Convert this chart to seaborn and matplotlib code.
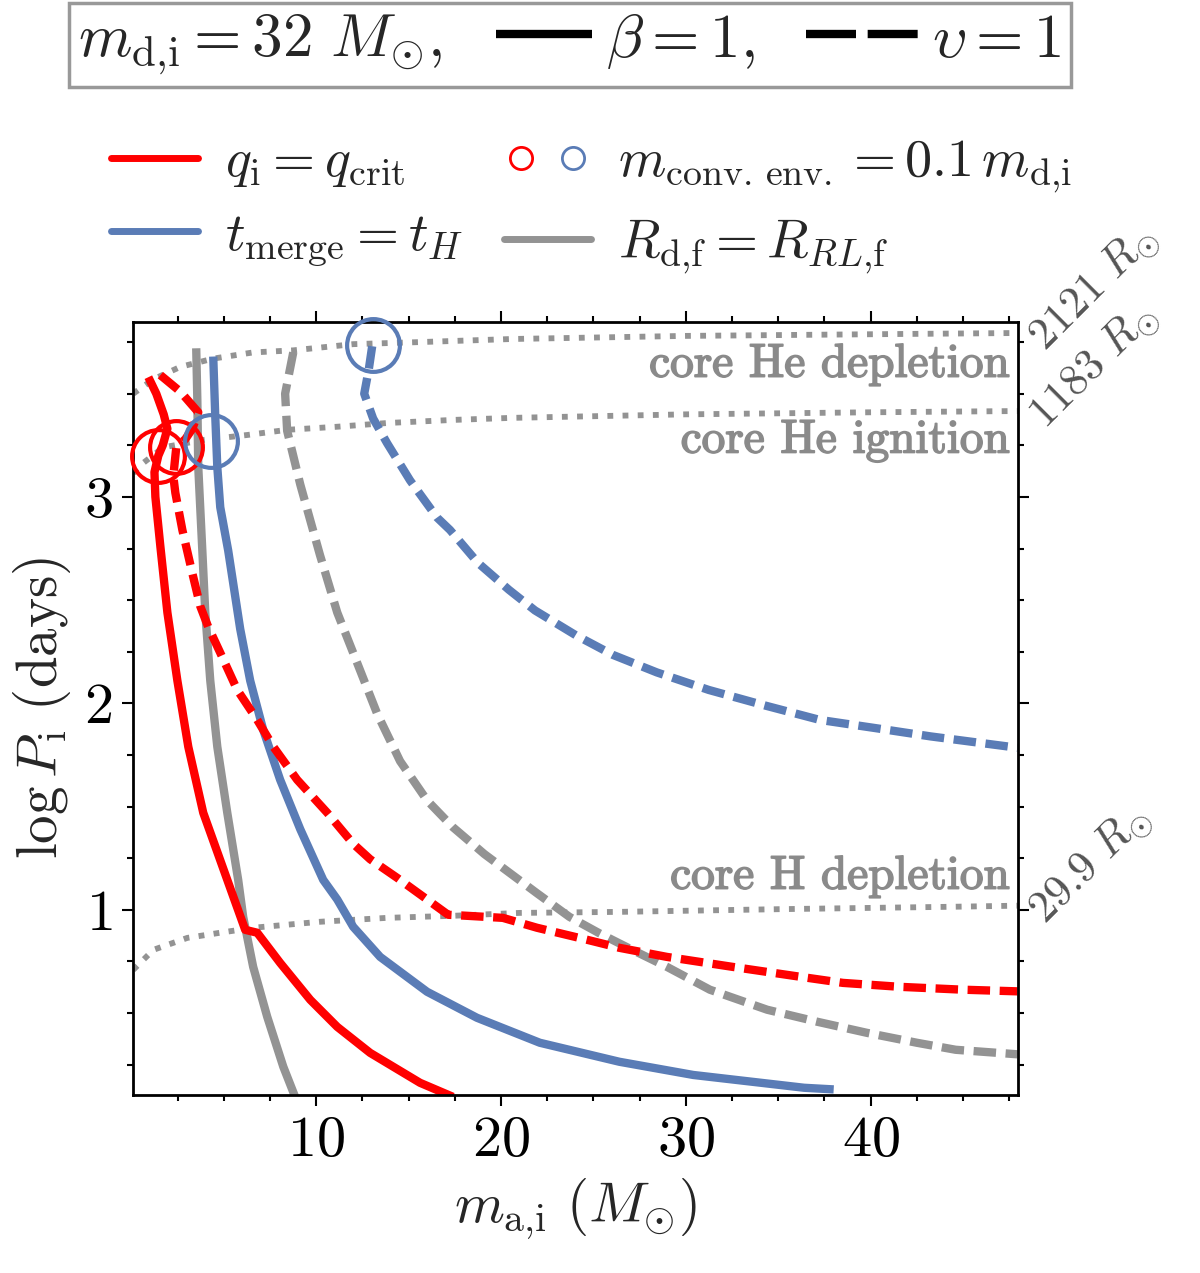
import matplotlib
matplotlib.use("Agg")
import matplotlib.pyplot as plt
import matplotlib.patheffects as pe
import seaborn as sns
from matplotlib.lines import Line2D
from matplotlib.ticker import MultipleLocator
from matplotlib.legend_handler import HandlerTuple
from matplotlib.offsetbox import TextArea, DrawingArea, HPacker, AnchoredOffsetbox

# ---------------- data ----------------
# q_i = q_crit, beta = 1 (solid red)
qcrit_beta_m = [0.92, 1.35, 1.75, 1.95, 1.70, 1.46, 1.25, 1.30, 1.57, 1.95, 2.49, 3.08, 3.89,
                5.19, 6.16, 6.81, 8.05, 9.68, 11.14, 12.92, 15.62, 17.4]
qcrit_beta_logp = [3.58, 3.50, 3.40, 3.33, 3.25, 3.20, 3.12, 3.00, 2.76, 2.44, 2.11, 1.79, 1.47,
                   1.145, 0.903, 0.889, 0.743, 0.564, 0.433, 0.307, 0.162, 0.094]
# q_i = q_crit, upsilon = 1 (dashed red)
qcrit_ups_m = [1.57, 2.65, 3.62, 3.30, 2.92, 2.43, 2.27, 2.38, 2.76, 3.30, 3.73, 4.16, 4.81, 5.73,
               6.81, 7.68, 8.97, 10.6, 12.0, 12.92, 14.38, 16.0, 17.14, 18.16, 20.1, 21.95, 24.65,
               26.4, 28.97, 32.5, 36.16, 38.5, 41.57, 45.0, 47.95]
qcrit_ups_logp = [3.59, 3.51, 3.41, 3.33, 3.28, 3.24, 3.10, 3.02, 2.84, 2.63, 2.47, 2.37, 2.245, 2.065,
                  1.92, 1.79, 1.63, 1.47, 1.32, 1.245, 1.155, 1.05, 0.976, 0.971, 0.961, 0.913, 0.855,
                  0.816, 0.772, 0.724, 0.676, 0.646, 0.627, 0.613, 0.605]
# t_merge = t_H, beta = 1 (solid blue)
tmerge_beta_m = [4.43, 4.54, 4.65, 4.81, 5.24, 5.89, 6.43, 7.14, 8.05, 9.14, 10.38, 11.14, 12.0,
                 13.46, 16.0, 18.7, 22.1, 26.4, 30.4, 36.4, 38.0]
tmerge_beta_logp = [3.68, 3.39, 3.145, 2.95, 2.74, 2.36, 2.11, 1.87, 1.63, 1.39, 1.145, 1.05, 0.918,
                    0.772, 0.603, 0.477, 0.356, 0.264, 0.20, 0.138, 0.13]
# t_merge = t_H, upsilon = 1 (dashed blue)
tmerge_ups_m = [13.03, 12.85, 12.6, 13.08, 13.84, 15.08, 16.54, 17.24, 18.76, 20.43, 21.84, 24.05,
                26.05, 28.43, 31.24, 34.27, 37.24, 40.27, 43.24, 47.95]
tmerge_ups_logp = [3.73, 3.62, 3.50, 3.38, 3.26, 3.08, 2.90, 2.84, 2.68, 2.55, 2.45, 2.33,
                   2.235, 2.15, 2.065, 1.99, 1.92, 1.88, 1.84, 1.785]
# R_d,f = R_RL,f, beta = 1 (solid gray)
rrl_beta_m = [3.51, 3.57, 3.62, 3.84, 4.0, 4.27, 4.65, 5.19, 5.78, 6.05, 6.59, 7.35, 8.22, 8.86]
rrl_beta_logp = [3.72, 3.47, 3.145, 2.74, 2.44, 2.11, 1.79, 1.47, 1.145, 0.966, 0.724, 0.482, 0.24, 0.094]
# R_d,f = R_RL,f, upsilon = 1 (dashed gray)
rrl_ups_m = [8.76, 8.32, 8.43, 9.14, 10.2, 11.14, 12.2, 13.3, 14.54, 16.0, 17.4, 19.1, 20.9, 21.95,
             23.7, 25.35, 27.1, 28.97, 31.3, 34.4, 37.1, 39.8, 42.5, 44.6, 47.95]
rrl_ups_logp = [3.70, 3.50, 3.32, 3.06, 2.72, 2.44, 2.20, 1.95, 1.72, 1.53, 1.40, 1.27, 1.15, 1.08,
                0.966, 0.885, 0.806, 0.724, 0.613, 0.516, 0.458, 0.404, 0.356, 0.322, 0.30]
# evolutionary stage lines (dotted gray)
he_dep_m = [0.1, 1.19, 2.65, 4.43, 6.59, 8.76, 12.0, 15.6, 20.6, 30.0, 40.0, 47.95]
he_dep_logp = [3.50, 3.57, 3.63, 3.67, 3.70, 3.71, 3.74, 3.75, 3.765, 3.78, 3.788, 3.794]
he_ign_m = [0.1, 0.65, 1.73, 3.89, 6.27, 8.43, 11.14, 13.84, 17.4, 20.6, 30.0, 40.0, 47.95]
he_ign_logp = [3.116, 3.165, 3.24, 3.276, 3.30, 3.325, 3.34, 3.358, 3.373, 3.383, 3.40, 3.41, 3.416]
h_dep_m = [0.1, 1.19, 3.03, 4.81, 6.59, 10.2, 13.84, 17.4, 21.0, 26.4, 35.0, 44.6, 47.95]
h_dep_logp = [0.709, 0.806, 0.864, 0.889, 0.913, 0.942, 0.961, 0.971, 0.985, 0.99, 1.003, 1.015, 1.02]
stage_names = ["core He depletion", "core He ignition", "core H depletion"]
stage_text_logp = [3.64, 3.27, 1.16]
radius_labels = [r"$2121\ R_{\odot}$", r"$1183\ R_{\odot}$", r"$29.9\ R_{\odot}$"]
# m_conv.env = 0.1 m_d,i markers
conv_red_m = [1.46, 2.43]
conv_red_logp = [3.20, 3.24]
conv_blue_m = [4.32, 13.08]
conv_blue_logp = [3.27, 3.735]

RED = "#ff0000"
BLUE = "#5a7cb6"
GRAY = "#939393"
STAGE_GRAY = "#8a8a8a"

sns.set_theme(style="ticks")
plt.rcParams.update({
    "font.family": "serif",
    "font.serif": ["cmr10", "DejaVu Serif"],
    "mathtext.fontset": "cm",
    "axes.formatter.use_mathtext": True,
    "axes.unicode_minus": False,
    "axes.edgecolor": "black",
    "xtick.color": "black",
    "ytick.color": "black",
})

fig = plt.figure(figsize=(12, 12.73), dpi=100)
ax = fig.add_axes([0.111, 0.140, 0.737, 0.607])


def draw(x, y, color, style, lw=6.0, z=2):
    sns.lineplot(x=x, y=y, ax=ax, sort=False, estimator=None, color=color, lw=lw, zorder=z)
    ln = ax.lines[-1]
    if style == "dash":
        ln.set_dashes((2.7, 1.15))
    elif style == "dot":
        ln.set_dashes((1.0, 1.6))
    ln.set_dash_capstyle("butt")
    ln.set_solid_capstyle("butt")
    return ln


# dotted stage lines
draw(he_dep_m, he_dep_logp, GRAY, "dot", lw=4.2, z=1)
draw(he_ign_m, he_ign_logp, GRAY, "dot", lw=4.2, z=1)
draw(h_dep_m, h_dep_logp, GRAY, "dot", lw=4.2, z=1)

# main curves
draw(rrl_ups_m, rrl_ups_logp, GRAY, "dash")
draw(rrl_beta_m, rrl_beta_logp, GRAY, "solid")
draw(tmerge_ups_m, tmerge_ups_logp, BLUE, "dash")
draw(tmerge_beta_m, tmerge_beta_logp, BLUE, "solid")
draw(qcrit_ups_m, qcrit_ups_logp, RED, "dash")
draw(qcrit_beta_m, qcrit_beta_logp, RED, "solid")

# convective envelope markers
ax.plot(conv_red_m, conv_red_logp, ls="none", marker="o", ms=38, mfc="none",
        mec=RED, mew=3, zorder=4, clip_on=False)
ax.plot(conv_blue_m, conv_blue_logp, ls="none", marker="o", ms=38, mfc="none",
        mec=BLUE, mew=3, zorder=4, clip_on=False)

XMIN, XMAX = 0.1, 47.95
ax.set_xlim(XMIN, XMAX)
ax.set_ylim(0.104, 3.847)

# stage annotations
for name, yv in zip(stage_names, stage_text_logp):
    ax.text(47.55, yv, name, ha="right", va="center", color=STAGE_GRAY, fontsize=34, zorder=5,
            path_effects=[pe.withStroke(linewidth=1.2, foreground=STAGE_GRAY)])

stage_end_logp = [he_dep_logp[-1], he_ign_logp[-1], h_dep_logp[-1]]
for lab, yv in zip(radius_labels, stage_end_logp):
    ax.annotate(lab, xy=(XMAX, yv), xytext=(20, -14), textcoords="offset points",
                rotation=45, rotation_mode="anchor", ha="left", va="baseline",
                color="#555555", fontsize=32, annotation_clip=False)

# axes styling
ax.xaxis.set_major_locator(MultipleLocator(10))
ax.xaxis.set_minor_locator(MultipleLocator(2.5))
ax.yaxis.set_major_locator(MultipleLocator(1))
ax.yaxis.set_minor_locator(MultipleLocator(0.25))
ax.tick_params(which="both", direction="out", top=True, right=True,
               labeltop=False, labelright=False, width=1.5)
ax.tick_params(which="major", length=8, labelsize=42, pad=7)
ax.tick_params(which="minor", length=4.5)
for sp in ax.spines.values():
    sp.set_linewidth(2)
    sp.set_color("black")

ax.set_xlabel(r"$m_{\rm a{,}i}\ (M_{\odot})$", fontsize=41, labelpad=6)
ax.set_ylabel(r"$\log P_{\rm i}\ ({\rm days})$", fontsize=41, labelpad=8)

# legend of curve types
h_q = Line2D([], [], color=RED, lw=5)
h_t = Line2D([], [], color=BLUE, lw=5)
h_c = (Line2D([], [], ls="none", marker="o", ms=16, mfc="none", mec=RED, mew=2),
       Line2D([], [], ls="none", marker="o", ms=16, mfc="none", mec=BLUE, mew=2))
h_r = Line2D([], [], color=GRAY, lw=5)
labels = [r"$q_{\rm i} = q_{\rm crit}$", r"$t_{\rm merge} = t_H$",
          r"$m_{\rm conv.\,env.} = 0.1\,m_{\rm d{,}i}$", r"$R_{\rm d{,}f} = R_{RL{,}{\rm f}}$"]
fig.legend([h_q, h_t, h_c, h_r], labels, ncol=2, loc="center",
           bbox_to_anchor=(0.493, 0.837), frameon=False, fontsize=39,
           handlelength=1.6, handletextpad=0.5, columnspacing=0.75, labelspacing=0.42,
           handler_map={tuple: HandlerTuple(ndivide=None, pad=0.3)})

# top boxed key
FS_TOP = 44
t1 = TextArea(r"$m_{\rm d{,}i} = 32\ M_{\odot},$", textprops=dict(fontsize=FS_TOP))
da1 = DrawingArea(98, 32, 0, 0)
da1.add_artist(Line2D([29, 98], [16, 16], color="black", lw=6, solid_capstyle="butt"))
t2 = TextArea(r"$\beta = 1,$", textprops=dict(fontsize=FS_TOP))
da2 = DrawingArea(108, 32, 0, 0)
ln2 = Line2D([27, 108], [16, 16], color="black", lw=6, dash_capstyle="butt")
ln2.set_dashes((6.0, 1.4))
da2.add_artist(ln2)
t3 = TextArea(r"$\upsilon = 1$", textprops=dict(fontsize=FS_TOP))
pack = HPacker(children=[t1, da1, t2, da2, t3], align="baseline", pad=0, sep=10)
box = AnchoredOffsetbox(loc="center", child=pack, pad=0.15, borderpad=0,
                        frameon=True, bbox_to_anchor=(0.475, 0.965),
                        bbox_transform=fig.transFigure, prop=dict(size=FS_TOP))
box.patch.set_edgecolor("#999999")
box.patch.set_linewidth(2.5)
box.patch.set_boxstyle("square", pad=0)
fig.add_artist(box)

fig.savefig("out.png", dpi=100)
